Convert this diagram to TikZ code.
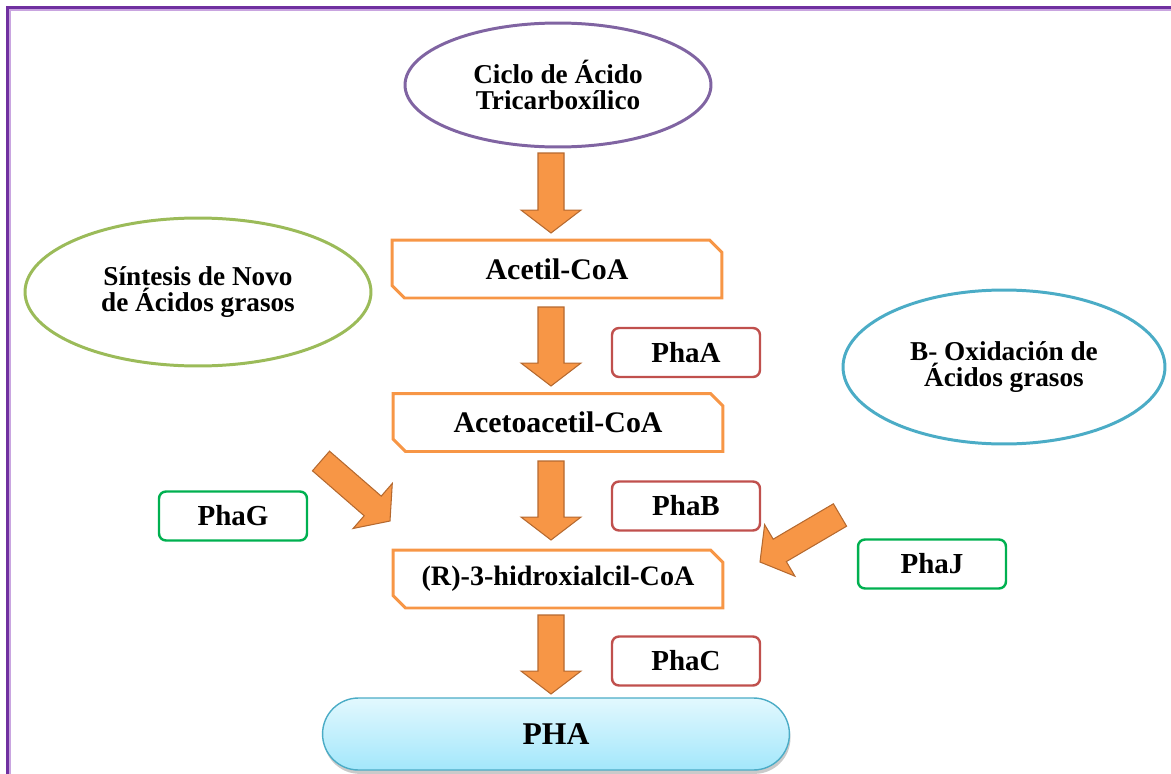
\documentclass[tikz,border=0pt]{standalone}
\usepackage{fontspec}
\setmainfont{Liberation Serif}
\usetikzlibrary{shapes.geometric,shapes.misc,calc,shadows}
\definecolor{framepurple}{HTML}{7030A0}
\definecolor{framelight}{HTML}{C9A5E0}
\definecolor{ellpurple}{HTML}{8064A2}
\definecolor{ellgreen}{HTML}{9BBB59}
\definecolor{ellblue}{HTML}{4BACC6}
\definecolor{boxorange}{HTML}{F79646}
\definecolor{arrfill}{HTML}{F79646}
\definecolor{arrdark}{HTML}{B5692F}
\definecolor{enzred}{HTML}{C0504D}
\definecolor{enzgreen}{HTML}{00B050}
\definecolor{phaline}{HTML}{4BACC6}
\definecolor{phatop}{HTML}{E2F8FE}
\definecolor{phabot}{HTML}{A3E7FB}
\newcommand{\orarrow}[2]{%
\draw[blockarr] let \p1=(#1), \p2=(#2),
  \n1={atan2(\y2-\y1,\x2-\x1)}, \n3={veclen(\x2-\x1,\y2-\y1)-13pt},
  \n4={\n1+90}, \n5={\n1-90} in
  ($(\p1)+(\n4:7.4pt)$) -- ($(\p1)+(\n1:\n3)+(\n4:7.4pt)$)
  -- ($(\p1)+(\n1:\n3)+(\n4:17pt)$) -- (\p2)
  -- ($(\p1)+(\n1:\n3)+(\n5:17pt)$) -- ($(\p1)+(\n1:\n3)+(\n5:7.4pt)$)
  -- ($(\p1)+(\n5:7.4pt)$) -- cycle;}
\begin{document}
\begin{tikzpicture}[x=0.02cm,y=-0.02cm,
  ell/.style={ellipse, line width=1.7pt, inner sep=0pt, align=center,
    font=\fontsize{15.5}{14.6}\selectfont\bfseries},
  stepbox/.style={chamfered rectangle, chamfered rectangle corners={north east,south west},
    chamfered rectangle xsep=0.15cm, chamfered rectangle ysep=0.1cm,
    draw=boxorange, line width=1.7pt, minimum width=6.6cm, minimum height=1.16cm,
    inner sep=0pt, font=\fontsize{17}{20}\selectfont\bfseries},
  enz/.style={rounded corners=0.14cm, line width=1.4pt, minimum width=2.96cm,
    minimum height=0.98cm, inner sep=0pt, font=\fontsize{16.5}{19}\selectfont\bfseries},
  enzr/.style={enz, draw=enzred},
  enzg/.style={enz, draw=enzgreen},
  phabox/.style={rounded corners=0.72cm, draw=phaline, line width=0.8pt,
    top color=phatop, bottom color=phabot, minimum width=9.34cm, minimum height=1.44cm,
    inner sep=0pt, font=\fontsize{18}{21}\selectfont\bfseries,
    drop shadow={shadow xshift=0.6pt, shadow yshift=-2.2pt, opacity=0.35, fill=black!60}},
  blockarr/.style={fill=arrfill, draw=arrdark, line width=0.6pt, line join=miter},
  framestyle/.style={framepurple, line width=1.7pt},
]
\useasboundingbox (0,0) rectangle (1171,774);
% frame
\draw[framestyle] (7.5,774) -- (7.5,7.5) -- (1171,7.5);
\draw[framelight, line width=0.6pt] (10,774) -- (10,10) -- (1171,10);

% ellipses
\node[ell, draw=ellpurple, minimum width=6.12cm, minimum height=2.48cm] (ciclo) at (558,85)
  {Ciclo de Ácido\\Tricarboxílico};
\node[ell, draw=ellgreen, minimum width=6.92cm, minimum height=2.96cm] (sintesis) at (198,292)
  {Síntesis de Novo\\de Ácidos grasos};
\node[ell, draw=ellblue, minimum width=6.44cm, minimum height=3.08cm] (oxid) at (1004,367)
  {B- Oxidación de\\Ácidos grasos};

% pathway boxes
\node[stepbox] (acetil) at (557,269) {Acetil-CoA};
\node[stepbox] (acetoacetil) at (558,422.5) {Acetoacetil-CoA};
\node[stepbox, font=\fontsize{16}{19}\selectfont\bfseries] (hidroxi) at (558,579) {(R)-3-hidroxialcil-CoA};

% enzymes
\node[enzr] (phaA) at (686,352.5) {PhaA};
\node[enzr] (phaB) at (686,506) {PhaB};
\node[enzr] (phaC) at (686,661) {PhaC};
\node[enzg] (phaG) at (233,516) {PhaG};
\node[enzg] (phaJ) at (932,564) {PhaJ};

% product
\node[phabox] (pha) at (556,734) {PHA};

% arrow end points
\coordinate (v1s) at (551,153); \coordinate (v1e) at (551,233);
\coordinate (v2s) at (551,307); \coordinate (v2e) at (551,386);
\coordinate (v3s) at (551,461); \coordinate (v3e) at (551,540);
\coordinate (v4s) at (551,615); \coordinate (v4e) at (551,694);
\coordinate (dls) at (321,461); \coordinate (dle) at (390,521);
\coordinate (drs) at (840,515); \coordinate (dre) at (760,562);

\orarrow{v1s}{v1e}
\orarrow{v2s}{v2e}
\orarrow{v3s}{v3e}
\orarrow{v4s}{v4e}
\orarrow{dls}{dle}
\orarrow{drs}{dre}
\end{tikzpicture}
\end{document}
